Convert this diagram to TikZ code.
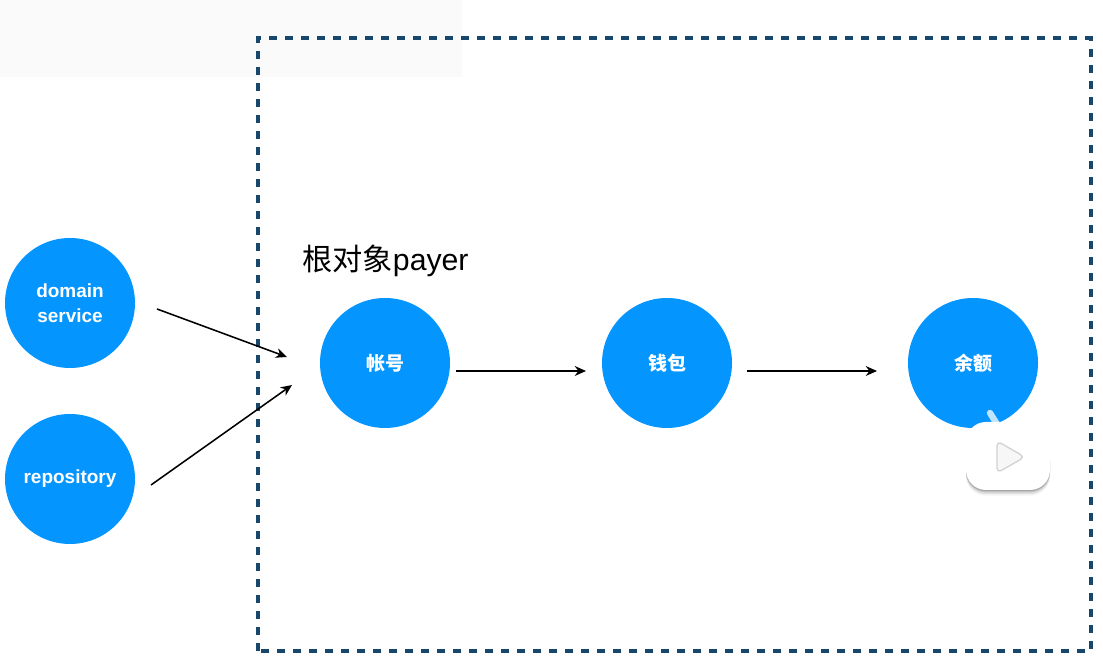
\documentclass[tikz,border=0pt]{standalone}
\usepackage{fontspec}
\setmainfont{Noto Sans CJK SC}
\newfontfamily\latinfont{Liberation Sans}
\usetikzlibrary{arrows.meta}
\definecolor{ballblue}{HTML}{0495FF}
\definecolor{boxblue}{HTML}{17486B}
\definecolor{topgray}{HTML}{FAFAFB}
\tikzset{
ball/.style={circle,fill=ballblue,minimum size=3.25cm,inner sep=0pt,text=white,font=\fontsize{13.5pt}{18pt}\selectfont\bfseries,align=center},
link/.style={line width=1.1pt,-{Stealth[length=8pt,width=7pt]}}
}
\begin{document}
\begin{tikzpicture}
\useasboundingbox (0,0) rectangle (27.575,16.525);
\fill[topgray] (0,14.6) rectangle (11.55,16.525);
\draw[boxblue,line width=2.9pt,dash pattern=on 0.2cm off 0.2cm] (6.45,0.25) rectangle (27.27,15.57);
\node[ball] (domain) at (1.75,8.95) {\latinfont domain\\\latinfont service};
\node[ball] (repository) at (1.75,4.55) {\latinfont repository};
\node[ball] (account) at (9.625,7.45) {帐号};
\node[ball] (wallet) at (16.675,7.45) {钱包};
\node[ball] (balance) at (24.325,7.45) {余额};
\node[anchor=west,inner sep=0pt,font=\fontsize{21.5pt}{26pt}\selectfont] (rootlabel) at (7.55,10) {根对象{\latinfont payer}};
\coordinate (domainout) at (3.925,8.8);
\coordinate (domainin) at (7.175,7.6);
\coordinate (repoout) at (3.775,4.4);
\coordinate (repoin) at (7.3,6.9);
\coordinate (accountout) at (11.4,7.25);
\coordinate (walletin) at (14.65,7.25);
\coordinate (walletout) at (18.675,7.25);
\coordinate (balancein) at (21.925,7.25);
\draw[link] (domainout) -- (domainin);
\draw[link] (repoout) -- (repoin);
\draw[link] (accountout) -- (walletin);
\draw[link] (walletout) -- (balancein);
\draw[line width=4.5pt,line cap=round,color=ballblue!25] (24.75,6.2) -- (25,5.8);
\draw[line width=4.5pt,line cap=round,color=white] (25.62,6.2) -- (25.35,5.8);
\foreach \off/\op in {0.14/0.05,0.1/0.08,0.06/0.12,0.03/0.15}
\fill[black,opacity=\op,rounded corners=0.5cm] (24.15,4.275-\off) rectangle (26.25,5.5);
\fill[white,rounded corners=0.5cm] (24.15,4.275) rectangle (26.25,5.975);
\draw[black!18,fill=black!3,line width=0.9pt,rounded corners=0.12cm,line join=round] (24.925,5.5) -- (24.925,4.7) -- (25.62,5.1) -- cycle;
\end{tikzpicture}
\end{document}
